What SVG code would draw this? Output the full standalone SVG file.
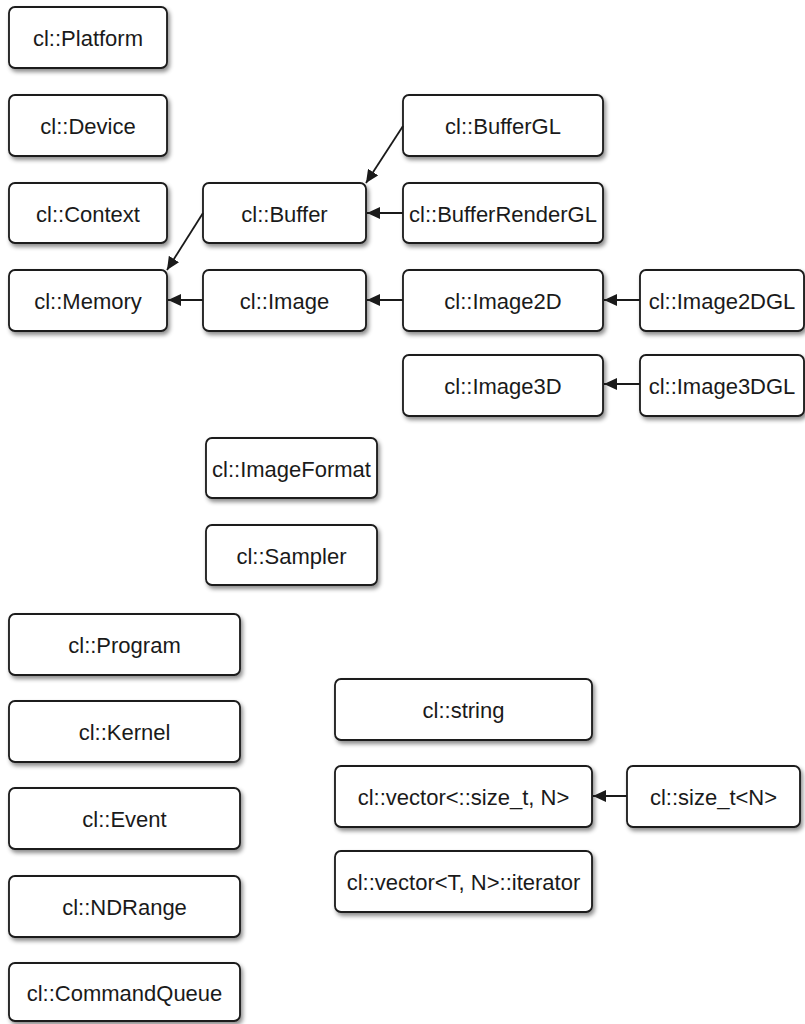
<svg xmlns="http://www.w3.org/2000/svg" width="805" height="1024" viewBox="0 0 805 1024">
  <defs>
    <filter id="sh" x="-10%" y="-20%" width="130%" height="150%">
      <feDropShadow dx="2" dy="3" stdDeviation="2.2" flood-color="#000" flood-opacity="0.45"/>
    </filter>
    <marker id="ah" markerWidth="14" markerHeight="12" refX="13" refY="6" orient="auto" markerUnits="userSpaceOnUse">
      <path d="M0,0 L13,6 L0,12 Z" fill="#1a1a1a"/>
    </marker>
    <style>
      .box { fill: #fff; stroke: #1a1a1a; stroke-width: 1.8; filter: url(#sh); }
      .lbl { font-family: "Liberation Sans", Arial, sans-serif; font-size: 22px; fill: #1a1a1a; text-anchor: middle; }
      .edge { stroke: #1a1a1a; stroke-width: 1.8; fill: none; marker-end: url(#ah); }
    </style>
  </defs>
  <rect width="805" height="1024" fill="#fff"/>

  <g id="platform"><rect class="box" x="9" y="7" width="158" height="61" rx="6"/><text class="lbl" x="88" y="46">cl::Platform</text></g>
  <g id="device"><rect class="box" x="9" y="95" width="158" height="61" rx="6"/><text class="lbl" x="88" y="134">cl::Device</text></g>
  <g id="context"><rect class="box" x="9" y="183" width="158" height="60" rx="6"/><text class="lbl" x="88" y="221.5">cl::Context</text></g>
  <g id="memory"><rect class="box" x="9" y="270" width="158" height="61" rx="6"/><text class="lbl" x="88" y="309">cl::Memory</text></g>

  <g id="buffer"><rect class="box" x="203" y="183" width="163" height="60" rx="6"/><text class="lbl" x="284.5" y="221.5">cl::Buffer</text></g>
  <g id="image"><rect class="box" x="203" y="270" width="163" height="61" rx="6"/><text class="lbl" x="284.5" y="309">cl::Image</text></g>

  <g id="buffergl"><rect class="box" x="403" y="95" width="200" height="61" rx="6"/><text class="lbl" x="503" y="134">cl::BufferGL</text></g>
  <g id="bufferrendergl"><rect class="box" x="403" y="183" width="200" height="60" rx="6"/><text class="lbl" x="503" y="221.5">cl::BufferRenderGL</text></g>
  <g id="image2d"><rect class="box" x="403" y="270" width="200" height="61" rx="6"/><text class="lbl" x="503" y="309">cl::Image2D</text></g>
  <g id="image3d"><rect class="box" x="403" y="355" width="200" height="61" rx="6"/><text class="lbl" x="503" y="394">cl::Image3D</text></g>

  <g id="image2dgl"><rect class="box" x="640" y="270" width="164" height="61" rx="6"/><text class="lbl" x="722" y="309">cl::Image2DGL</text></g>
  <g id="image3dgl"><rect class="box" x="640" y="355" width="164" height="61" rx="6"/><text class="lbl" x="722" y="394">cl::Image3DGL</text></g>

  <g id="imageformat"><rect class="box" x="206" y="438" width="171" height="60" rx="6"/><text class="lbl" x="291.5" y="476.5">cl::ImageFormat</text></g>
  <g id="sampler"><rect class="box" x="206" y="525" width="171" height="60" rx="6"/><text class="lbl" x="291.5" y="563.5">cl::Sampler</text></g>

  <g id="program"><rect class="box" x="9" y="614" width="231" height="61" rx="6"/><text class="lbl" x="124.5" y="653">cl::Program</text></g>
  <g id="kernel"><rect class="box" x="9" y="701" width="231" height="61" rx="6"/><text class="lbl" x="124.5" y="740">cl::Kernel</text></g>
  <g id="event"><rect class="box" x="9" y="788" width="231" height="61" rx="6"/><text class="lbl" x="124.5" y="827">cl::Event</text></g>
  <g id="ndrange"><rect class="box" x="9" y="876" width="231" height="61" rx="6"/><text class="lbl" x="124.5" y="915">cl::NDRange</text></g>
  <g id="commandqueue"><rect class="box" x="9" y="963" width="231" height="58" rx="6"/><text class="lbl" x="124.5" y="1000.5">cl::CommandQueue</text></g>

  <g id="string"><rect class="box" x="335" y="679" width="257" height="61" rx="6"/><text class="lbl" x="463.5" y="718">cl::string</text></g>
  <g id="vector"><rect class="box" x="335" y="766" width="257" height="61" rx="6"/><text class="lbl" x="463.5" y="805">cl::vector&lt;::size_t, N&gt;</text></g>
  <g id="size_t"><rect class="box" x="627" y="766" width="173" height="61" rx="6"/><text class="lbl" x="713.5" y="805">cl::size_t&lt;N&gt;</text></g>
  <g id="iterator"><rect class="box" x="335" y="851" width="257" height="61" rx="6"/><text class="lbl" x="463.5" y="890">cl::vector&lt;T, N&gt;::iterator</text></g>

  <g id="connectors">
    <line class="edge" x1="403" y1="126" x2="366" y2="183"/>
    <line class="edge" x1="403" y1="213" x2="367" y2="213"/>
    <line class="edge" x1="203" y1="213" x2="167" y2="270"/>
    <line class="edge" x1="203" y1="300" x2="168" y2="300"/>
    <line class="edge" x1="403" y1="300" x2="367" y2="300"/>
    <line class="edge" x1="640" y1="300" x2="604" y2="300"/>
    <line class="edge" x1="640" y1="384" x2="604" y2="384"/>
    <line class="edge" x1="627" y1="796" x2="593" y2="796"/>
  </g>
</svg>
